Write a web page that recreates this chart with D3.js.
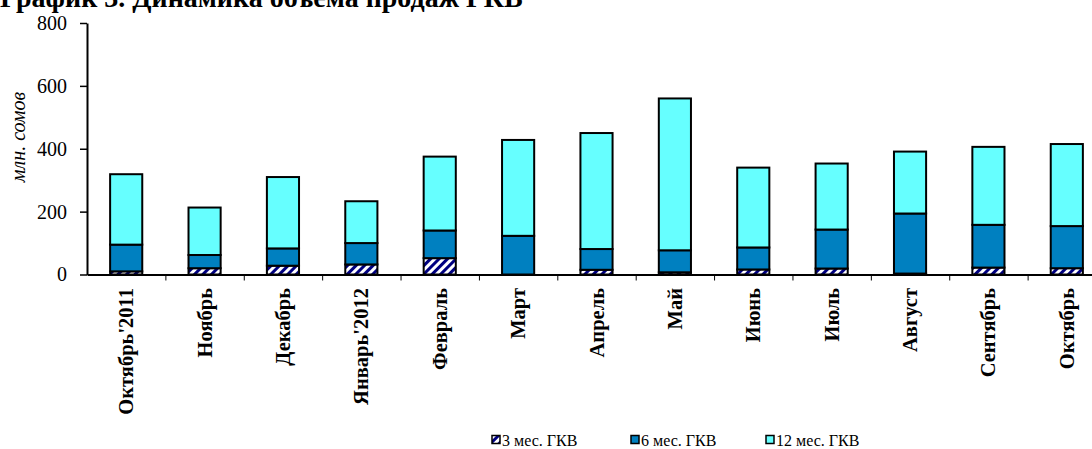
<!DOCTYPE html>
<html>
<head>
<meta charset="utf-8">
<script src="https://cdn.jsdelivr.net/npm/d3@7"></script>
<style>
  body { margin: 0; background: #fff; }
  text { font-family: "Liberation Serif", "Times New Roman", "DejaVu Serif", serif; }
</style>
</head>
<body>
<div id="vis"></div>
<script>
const FRAME_WIDTH = 1092;
const FRAME_HEIGHT = 449;
const SERIF = "'Liberation Serif', 'Times New Roman', 'DejaVu Serif', serif";

// data (млн. сомов)
const MONTHS = ["Октябрь'2011", "Ноябрь", "Декабрь", "Январь'2012", "Февраль", "Март",
  "Апрель", "Май", "Июнь", "Июль", "Август", "Сентябрь", "Октябрь"];
const GKV_3M = [10, 20, 28, 32, 52, 0, 15, 7, 16, 19, 3, 22, 20];
const GKV_6M = [85, 42, 55, 68, 88, 123, 66, 70, 70, 124, 191, 136, 134];
const GKV_12M = [224, 151, 227, 133, 235, 305, 369, 483, 254, 210, 197, 248, 261];
const SERIES = ["3 мес. ГКВ", "6 мес. ГКВ", "12 мес. ГКВ"];
const Y_TICKS = [0, 200, 400, 600, 800];

const FILLS = ["url(#hatch)", "#0080C0", "#66FFFF"];

const svg = d3.select("#vis")
  .append("svg")
    .attr("width", FRAME_WIDTH)
    .attr("height", FRAME_HEIGHT)
    .attr("font-family", SERIF);

// diagonal hatch for 3-month bills
const pat = svg.append("defs").append("pattern")
  .attr("id", "hatch")
  .attr("patternUnits", "userSpaceOnUse")
  .attr("width", 6).attr("height", 6)
  .attr("patternTransform", "rotate(45)");
pat.append("rect").attr("width", 6).attr("height", 6).attr("fill", "#fff");
pat.append("rect").attr("width", 3).attr("height", 6).attr("fill", "#000080");

const X0 = 87, X1 = 1106, Y0 = 274.5, Y1 = 23;

const X_BAND = d3.scaleBand().domain(MONTHS).range([X0, X1]).paddingInner(0.59).paddingOuter(0.295);
const X_LIN = d3.scaleLinear().domain([0, MONTHS.length]).range([X0, X1]);
const Y_SCALE = d3.scaleLinear().domain([0, 800]).range([Y0, Y1]);

// title (mostly cut off at the top in the original)
svg.append("text")
  .attr("x", 0).attr("y", 7)
  .attr("font-family", SERIF)
  .attr("font-size", 28).attr("font-weight", "bold")
  .text("График 3. Динамика объема продаж ГКВ");

// stacked bars
const rows = MONTHS.map((m, i) => ({month: m, s0: GKV_3M[i], s1: GKV_6M[i], s2: GKV_12M[i]}));
const stack = d3.stack().keys(["s0", "s1", "s2"])(rows);

svg.selectAll("g.layer")
  .data(stack)
  .enter()
  .append("g")
    .attr("class", "layer")
    .attr("fill", (d, i) => FILLS[i])
  .selectAll("rect")
  .data((d) => d.filter((p) => p[1] - p[0] > 0))
  .enter()
  .append("rect")
    .attr("x", (d) => X_BAND(d.data.month))
    .attr("width", X_BAND.bandwidth())
    .attr("y", (d) => Y_SCALE(d[1]))
    .attr("height", (d) => Y_SCALE(d[0]) - Y_SCALE(d[1]))
    .attr("stroke", "#000")
    .attr("stroke-width", 2);

// y axis
const yAxis = svg.append("g")
  .attr("transform", `translate(${X0},0)`)
  .call(d3.axisLeft(Y_SCALE).tickValues(Y_TICKS).tickSize(7).tickPadding(13).tickSizeOuter(0));
yAxis.attr("font-family", SERIF);
yAxis.select(".domain").attr("stroke-width", 2);
yAxis.selectAll(".tick line").attr("stroke-width", 1.5);
yAxis.selectAll("text").attr("font-size", 20).attr("font-family", SERIF);

svg.append("text")
  .attr("transform", "translate(25,137) rotate(-90)")
  .attr("text-anchor", "middle")
  .attr("font-family", SERIF)
  .attr("font-size", 20)
  .attr("font-style", "italic")
  .text("млн. сомов");

// x axis: ticks between categories
const xAxis = svg.append("g")
  .attr("transform", `translate(0,${Y0})`)
  .call(d3.axisBottom(X_LIN).tickValues(d3.range(1, MONTHS.length)).tickSize(6).tickFormat("").tickSizeOuter(0));
xAxis.select(".domain").attr("stroke-width", 2);

svg.selectAll("text.month")
  .data(MONTHS)
  .enter()
  .append("text")
    .attr("class", "month")
    .attr("transform", (d) => `translate(${X_BAND(d) + X_BAND.bandwidth() / 2 + 7},288) rotate(-90)`)
    .attr("text-anchor", "end")
    .attr("font-family", SERIF)
    .attr("font-size", 20.5)
    .attr("font-weight", "bold")
    .text((d) => d);

// legend
const LEGEND_X = [492, 631, 766];
const legend = svg.selectAll("g.legend")
  .data(SERIES)
  .enter()
  .append("g")
    .attr("class", "legend")
    .attr("transform", (d, i) => `translate(${LEGEND_X[i]},440)`);
legend.append("rect")
  .attr("x", 0).attr("y", -4.5)
  .attr("width", 8).attr("height", 8)
  .attr("fill", (d, i) => FILLS[i])
  .attr("stroke", "#000")
  .attr("stroke-width", 1.5);
legend.append("text")
  .attr("x", 10).attr("y", 5.5)
  .attr("font-family", SERIF)
  .attr("font-size", 16)
  .text((d) => d);
</script>
</body>
</html>
